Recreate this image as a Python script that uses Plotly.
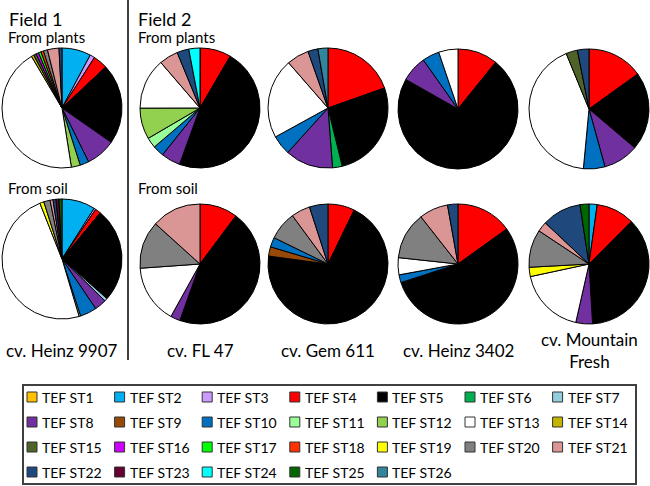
import plotly.graph_objects as go

W, H = 650, 486

# ---- data -------------------------------------------------------------
st_labels = [f"ST{i}" for i in range(1, 27)]
st_colors = ["#FFC000", "#00B0F0", "#CC99FF", "#FF0000", "#000000", "#00B050",
             "#93CDDD", "#7030A0", "#984807", "#0070C0", "#99FF99", "#92D050",
             "#FFFFFF", "#C4B400", "#4F6228", "#CC00FF", "#00FF00", "#FF3300",
             "#FFFF00", "#808080", "#DA9694", "#1F497D", "#660033", "#00FFFF",
             "#006600", "#31859C"]

cultivars = ["cv. Heinz 9907", "cv. FL 47", "cv. Gem 611", "cv. Heinz 3402",
             "cv. Mountain<br>Fresh"]

# composition (% of isolates) per pie: (labels, values)
h9907_plants_lab = ["ST2", "ST3", "ST4", "ST5", "ST8", "ST10", "ST12", "ST13", "ST14",
                    "ST15", "ST16", "ST17", "ST18", "ST20", "ST21", "ST22"]
h9907_plants_val = [7.8, 1.3, 3.9, 21.7, 8.0, 2.4, 2.4, 44.0, 0.7,
                    0.7, 0.7, 0.7, 0.7, 1.1, 3.1, 0.8]
h9907_soil_lab = ["ST2", "ST3", "ST4", "ST5", "ST7", "ST8", "ST10", "ST11", "ST13",
                  "ST19", "ST20", "ST21", "ST22", "ST23", "ST25"]
h9907_soil_val = [9.0, 0.5, 1.5, 25.5, 0.8, 3.2, 4.5, 0.4, 48.6,
                  1.1, 1.7, 0.8, 0.8, 0.8, 0.8]
fl47_plants_lab = ["ST4", "ST5", "ST8", "ST10", "ST11", "ST12", "ST13", "ST21", "ST22", "ST24"]
fl47_plants_val = [8.4, 47.1, 5.2, 3.0, 2.8, 8.4, 13.7, 5.1, 3.2, 3.0]
fl47_soil_lab = ["ST4", "ST5", "ST8", "ST13", "ST20", "ST21"]
fl47_soil_val = [10.2, 45.2, 2.6, 15.8, 12.8, 13.3]
gem611_plants_lab = ["ST4", "ST5", "ST6", "ST8", "ST10", "ST13", "ST21", "ST22", "ST26"]
gem611_plants_val = [19.6, 26.6, 2.6, 12.9, 5.3, 21.6, 6.0, 2.7, 2.7]
gem611_soil_lab = ["ST4", "ST5", "ST9", "ST10", "ST20", "ST21", "ST22"]
gem611_soil_val = [7.2, 70.0, 2.5, 2.6, 7.7, 5.1, 5.0]
h3402_plants_lab = ["ST4", "ST5", "ST8", "ST10", "ST13"]
h3402_plants_val = [10.8, 72.4, 7.0, 4.6, 5.2]
h3402_soil_lab = ["ST4", "ST5", "ST10", "ST13", "ST20", "ST21", "ST22"]
h3402_soil_val = [15.1, 54.9, 2.1, 4.6, 12.7, 7.8, 2.8]
mf_plants_lab = ["ST4", "ST5", "ST8", "ST10", "ST13", "ST15", "ST22"]
mf_plants_val = [15.1, 21.1, 9.5, 5.8, 42.3, 3.1, 3.1]
mf_soil_lab = ["ST2", "ST4", "ST5", "ST8", "ST13", "ST19", "ST20", "ST21", "ST22", "ST25"]
mf_soil_val = [2.2, 10.3, 36.6, 4.5, 18.1, 2.5, 10.2, 2.7, 10.6, 2.4]

plants_rows = [(h9907_plants_lab, h9907_plants_val), (fl47_plants_lab, fl47_plants_val),
               (gem611_plants_lab, gem611_plants_val), (h3402_plants_lab, h3402_plants_val),
               (mf_plants_lab, mf_plants_val)]
soil_rows = [(h9907_soil_lab, h9907_soil_val), (fl47_soil_lab, fl47_soil_val),
             (gem611_soil_lab, gem611_soil_val), (h3402_soil_lab, h3402_soil_val),
             (mf_soil_lab, mf_soil_val)]

# ---- layout geometry (pixels) ----------------------------------------
col_cx = [62, 200, 328, 458, 589]
plants_cy = [108, 108, 108, 109, 109]
soil_cy = [259, 264, 264, 264, 264]
radius = 60

color_of = dict(zip(st_labels, st_colors))


def px_x(x):
    return x / W


def px_y(y):
    return 1 - y / H


fig = go.Figure()


def add_pie(labs, vals, cx, cy):
    fig.add_trace(go.Pie(
        labels=[f"TEF {l}" for l in labs], values=vals,
        marker=dict(colors=[color_of[l] for l in labs], line=dict(color="#000000", width=1)),
        sort=False, direction="clockwise", rotation=0,
        textinfo="none", hoverinfo="label+percent", showlegend=False,
        domain=dict(x=[max(0, px_x(cx - radius)), min(1, px_x(cx + radius))],
                    y=[px_y(cy + radius), px_y(cy - radius)]),
    ))


for i, (labs, vals) in enumerate(plants_rows):
    add_pie(labs, vals, col_cx[i], plants_cy[i])
for i, (labs, vals) in enumerate(soil_rows):
    add_pie(labs, vals, col_cx[i], soil_cy[i])

FONT = "Lato"
ann = []
shapes = []


def text(t, x, y, size, xanchor="left"):
    ann.append(dict(text=t, x=px_x(x), y=px_y(y), xref="paper", yref="paper",
                    xanchor=xanchor, yanchor="middle", showarrow=False,
                    font=dict(family=FONT, size=size, color="#000000")))


text("Field 1", 7, 19, 18)
text("From plants", 6, 37, 15)
text("From soil", 6, 188, 15)
text("Field 2", 136, 19, 18)
text("From plants", 136, 37, 15)
text("From soil", 136, 188, 15)
for i, c in enumerate(cultivars):
    text(c, col_cx[i], 350, 17, xanchor="center")

# divider between Field 1 and Field 2
shapes.append(dict(type="line", xref="paper", yref="paper",
                   x0=px_x(128), x1=px_x(128), y0=px_y(0), y1=px_y(360),
                   line=dict(color="#000000", width=1.5)))

# ---- legend (7 columns x 4 rows) -------------------------------------
leg_box = (23, 385, 636, 484)
leg_x0, leg_dx, leg_y0, leg_dy, ncol, sw = 32, 87.6, 397, 25, 7, 5
shapes.append(dict(type="rect", xref="paper", yref="paper",
                   x0=px_x(leg_box[0]), x1=px_x(leg_box[2]),
                   y0=px_y(leg_box[3]), y1=px_y(leg_box[1]),
                   line=dict(color="#404040", width=2), fillcolor="white", layer="below"))
for k, (lab, col) in enumerate(zip(st_labels, st_colors)):
    r, c = divmod(k, ncol)
    cx = leg_x0 + c * leg_dx
    cy = leg_y0 + r * leg_dy
    shapes.append(dict(type="rect", xref="paper", yref="paper",
                       x0=px_x(cx - sw), x1=px_x(cx + sw), y0=px_y(cy + sw), y1=px_y(cy - sw),
                       fillcolor=col, line=dict(color="#333333", width=1)))
    text(f"TEF {lab}", cx + 8, cy, 14)

fig.update_layout(
    width=W, height=H, autosize=False,
    margin=dict(l=0, r=0, t=0, b=0),
    paper_bgcolor="white", plot_bgcolor="white",
    showlegend=False,
    annotations=ann,
    shapes=shapes,
)

fig.write_html("out.html", config={"displayModeBar": False},
               post_script="document.body.style.margin='0';")
